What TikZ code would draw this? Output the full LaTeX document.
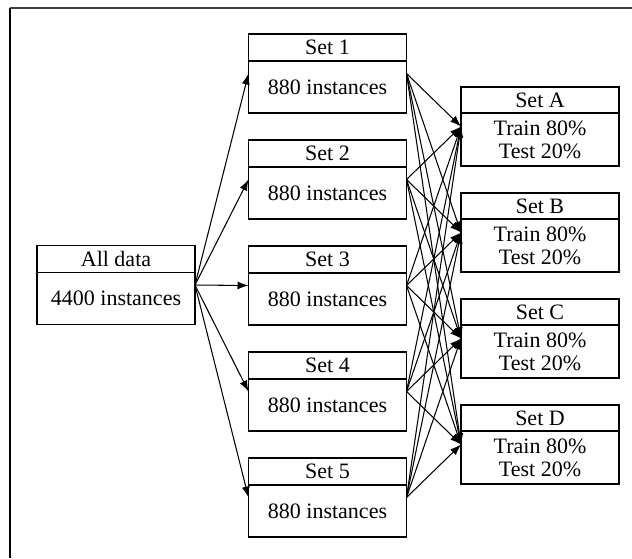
\documentclass[tikz,border=0pt]{standalone}
\usepackage{fontspec}
\setmainfont{Liberation Serif}
\usetikzlibrary{arrows.meta,calc}

\tikzset{
  databox/.style={draw=black, line width=1.3pt, rectangle, minimum width=158pt,
                  minimum height=79pt, inner sep=0pt, outer sep=0pt},
  boxtext/.style={font=\fontsize{22}{23.5}\selectfont, inner sep=0pt, align=center},
  flow/.style={line width=1.05pt, -{Latex[length=11pt,width=8pt]}},
  frameline/.style={line width=1.5pt}
}

\begin{document}
\begin{tikzpicture}[x=1pt,y=-1pt]
  \useasboundingbox (0,0) rectangle (632,558);

  % outer frame (only the left and top edges fall on the page)
  \draw[frameline, black!75] (10,8) -- (632,8);
  \draw[frameline] (10,8) -- (10,558);

  % source box
  \node[databox] (all) at (116,285) {};
  \draw[line width=1.3pt] ($(all.north west)+(0,27)$) -- ($(all.north east)+(0,27)$);
  \node[boxtext] (allh) at ($(all.north)+(0,13.5)$) {All data};
  \node[boxtext] (allb) at ($(all.north)+(0,53)$) {4400 instances};

  % the five folds
  \foreach \i in {1,...,5}{
    \pgfmathsetmacro{\yc}{73.5+106*(\i-1)}
    \node[databox] (s\i) at (327.5,\yc) {};
    \draw[line width=1.3pt] ($(s\i.north west)+(0,27)$) -- ($(s\i.north east)+(0,27)$);
    \node[boxtext] (s\i h) at ($(s\i.north)+(0,13.5)$) {Set \i};
    \node[boxtext] (s\i b) at ($(s\i.north)+(0,53)$) {880 instances};
  }

  % the four train/test splits
  \foreach \k/\lab [count=\n from 0] in {A/A,B/B,C/C,D/D}{
    \pgfmathsetmacro{\yc}{126.5+106*\n}
    \node[databox] (t\k) at (540,\yc) {};
    \draw[line width=1.3pt] ($(t\k.north west)+(0,26)$) -- ($(t\k.north east)+(0,26)$);
    \node[boxtext] (t\k h) at ($(t\k.north)+(0,13)$) {Set \lab};
    \node[boxtext] (t\k b) at ($(t\k.north)+(0,53)$) {Train 80\%\\Test 20\%};
  }

  % connectors
  \foreach \i in {1,...,5}{
    \draw[flow] (all.east) -- (s\i.west);
    \foreach \k in {A,B,C,D}{
      \draw[flow] (s\i.east) -- (t\k.west);
    }
  }
\end{tikzpicture}
\end{document}
